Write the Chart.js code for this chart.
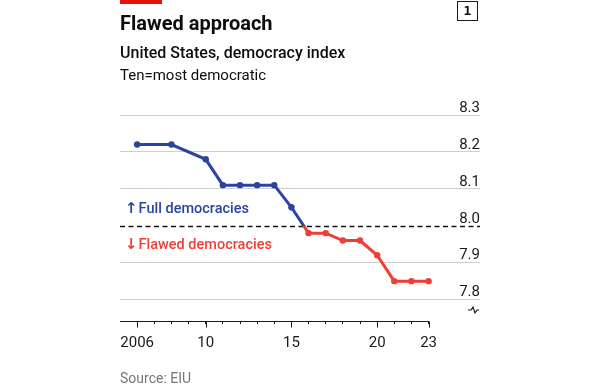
<!DOCTYPE html>
<html>
<head>
<meta charset="utf-8">
<script src="https://cdn.jsdelivr.net/npm/chart.js@4/dist/chart.umd.min.js"></script>
<style>
  html, body { margin: 0; padding: 0; background: #fff; }
  #wrap { position: relative; width: 600px; height: 387px; overflow: hidden; font-family: Roboto, "Noto Sans", sans-serif; }
  #chart { position: absolute; left: 0; top: 0; width: 600px; height: 387px; }
  .txt { position: absolute; white-space: nowrap; }
  #redbar { position: absolute; left: 120px; top: 0; width: 42px; height: 4px; background: #E3120B; }
  #title { left: 120px; top: 13px; font-size: 20px; line-height: 20px; font-weight: 700; color: #0d0d0d; }
  #sub1 { left: 120px; top: 45px; font-size: 16px; line-height: 16px; font-weight: 500; color: #0d0d0d; }
  #sub2 { left: 120px; top: 68px; font-size: 15px; line-height: 15px; font-weight: 400; color: #0d0d0d; }
  #source { left: 120px; top: 371px; font-size: 14px; line-height: 14px; color: #767676; }
  #num { position: absolute; left: 457px; top: 1px; width: 19px; height: 18px; border: 1.5px solid #1a1a1a; font-size: 13px; font-weight: 700; line-height: 18px; text-align: center; color: #0d0d0d; font-family: "DejaVu Sans Mono", monospace; }
</style>
</head>
<body>
<div id="wrap">
  <canvas id="chart" width="600" height="387"></canvas>
  <div id="redbar"></div>
  <div class="txt" id="title">Flawed approach</div>
  <div class="txt" id="sub1">United States, democracy index</div>
  <div class="txt" id="sub2">Ten=most democratic</div>
  <div class="txt" id="source">Source: EIU</div>
  <div id="num">1</div>
</div>
<script>
// ---- data ----
const years = [2006, 2008, 2010, 2011, 2012, 2013, 2014, 2015, 2016, 2017, 2018, 2019, 2020, 2021, 2022, 2023];
const indexValues = [8.22, 8.22, 8.18, 8.11, 8.11, 8.11, 8.11, 8.05, 7.98, 7.98, 7.96, 7.96, 7.92, 7.85, 7.85, 7.85];
const yTickValues = [7.8, 7.9, 8.0, 8.1, 8.2, 8.3];
const xTickYears = [2006, 2007, 2008, 2009, 2010, 2011, 2012, 2013, 2014, 2015, 2016, 2017, 2018, 2019, 2020, 2021, 2022, 2023];
const xLabelYears = [2006, 2010, 2015, 2020, 2023];
const xLabelTexts = ['2006', '10', '15', '20', '23'];
const threshold = 8.0;
const aboveArrow = '\u2191', aboveLabel = 'Full democracies';
const belowArrow = '\u2193', belowLabel = 'Flawed democracies';

const BLUE = '#2B44A2';
const RED = '#EF3E36';

Chart.defaults.font.family = 'Roboto, "Noto Sans", sans-serif';

const points = years.map((y, i) => ({ x: y, y: indexValues[i] }));

function lineColor(context) {
  const chart = context.chart;
  const { ctx, chartArea, scales } = chart;
  if (!chartArea || !scales.y) return BLUE;
  const yp = scales.y.getPixelForValue(threshold);
  let stop = (yp - chartArea.top) / (chartArea.bottom - chartArea.top);
  stop = Math.max(0, Math.min(1, stop));
  const g = ctx.createLinearGradient(0, chartArea.top, 0, chartArea.bottom);
  g.addColorStop(0, BLUE);
  g.addColorStop(stop, BLUE);
  g.addColorStop(stop, RED);
  g.addColorStop(1, RED);
  return g;
}

function drawTag(ctx, arrow, label, x, y, color) {
  ctx.fillStyle = color;
  ctx.font = 'bold 15px "DejaVu Sans", sans-serif';
  ctx.fillText(arrow, x, y);
  const w = ctx.measureText(arrow).width;
  ctx.font = '500 14.5px Roboto, "Noto Sans", sans-serif';
  ctx.fillText(label, x + w + 1, y);
}

const decorPlugin = {
  id: 'decor',
  beforeDatasetsDraw(chart) {
    const { ctx, chartArea, scales } = chart;
    const yp = Math.round(scales.y.getPixelForValue(threshold)) + 0.5;
    ctx.save();
    ctx.strokeStyle = '#111';
    ctx.lineWidth = 1.3;
    ctx.setLineDash([5, 3.5]);
    ctx.beginPath();
    ctx.moveTo(chartArea.left, yp);
    ctx.lineTo(chartArea.right, yp);
    ctx.stroke();
    ctx.setLineDash([]);
    ctx.textBaseline = 'middle';
    ctx.textAlign = 'left';
    drawTag(ctx, aboveArrow, aboveLabel, chartArea.left + 5, yp - 17, BLUE);
    drawTag(ctx, belowArrow, belowLabel, chartArea.left + 5, yp + 19, RED);
    ctx.restore();
  },
  afterDraw(chart) {
    const { ctx, chartArea, scales } = chart;
    const xs = scales.x;
    const base = Math.round(xs.top) + 0.5;
    ctx.save();
    ctx.strokeStyle = '#1a1a1a';
    ctx.lineWidth = 1.2;
    ctx.beginPath();
    ctx.moveTo(xs.getPixelForValue(xs.min), base);
    ctx.lineTo(xs.getPixelForValue(xTickYears[xTickYears.length - 1]), base);
    ctx.stroke();
    ctx.lineWidth = 1;
    xLabelYears.forEach(v => {
      const px = Math.round(xs.getPixelForValue(v)) + 0.5;
      ctx.beginPath();
      ctx.moveTo(px, base);
      ctx.lineTo(px, base + 6);
      ctx.stroke();
    });
    const r = chartArea.right;
    const by = chartArea.bottom - 11;
    ctx.lineWidth = 1.2;
    ctx.beginPath();
    ctx.moveTo(r - 12, by);
    ctx.lineTo(r - 9, by);
    ctx.lineTo(r - 7, by - 3);
    ctx.lineTo(r - 5, by + 3);
    ctx.lineTo(r - 3, by);
    ctx.lineTo(r - 1, by);
    ctx.stroke();
    ctx.restore();
  }
};

new Chart(document.getElementById('chart'), {
  type: 'line',
  data: {
    datasets: [{
      data: points,
      borderColor: lineColor,
      borderWidth: 3,
      tension: 0,
      pointRadius: 3.2,
      pointHoverRadius: 3.2,
      pointBorderWidth: 0,
      pointBackgroundColor: (c) => (c.raw && c.raw.y >= threshold ? BLUE : RED),
      clip: false
    }]
  },
  options: {
    responsive: false,
    animation: false,
    events: [],
    layout: { padding: { left: 120, right: 120, top: 115, bottom: 25 } },
    plugins: { legend: { display: false }, tooltip: { enabled: false }, title: { display: false } },
    scales: {
      x: {
        type: 'linear',
        min: 2005,
        max: 2026,
        afterBuildTicks: (scale) => { scale.ticks = xTickYears.map(v => ({ value: v })); },
        grid: { drawOnChartArea: false, drawTicks: true, tickLength: 3, tickColor: '#1a1a1a', tickWidth: 1 },
        border: { display: false },
        ticks: {
          autoSkip: false,
          maxRotation: 0,
          padding: 10,
          color: '#1a1a1a',
          font: { size: 15 },
          callback: (v) => { const i = xLabelYears.indexOf(v); return i >= 0 ? xLabelTexts[i] : ''; }
        }
      },
      y: {
        type: 'linear',
        position: 'right',
        min: 7.742,
        max: 8.3,
        afterBuildTicks: (scale) => { scale.ticks = yTickValues.map(v => ({ value: v })); },
        grid: {
          drawTicks: false,
          color: (c) => (c.tick && Math.abs(c.tick.value - threshold) < 1e-9 ? 'rgba(0,0,0,0)' : '#cfcfcf'),
          lineWidth: 1
        },
        border: { display: false },
        ticks: {
          mirror: true,
          padding: 0,
          labelOffset: -7,
          color: '#1a1a1a',
          font: { size: 15 },
          callback: (v) => v.toFixed(1)
        }
      }
    }
  },
  plugins: [decorPlugin]
});
</script>
</body>
</html>
